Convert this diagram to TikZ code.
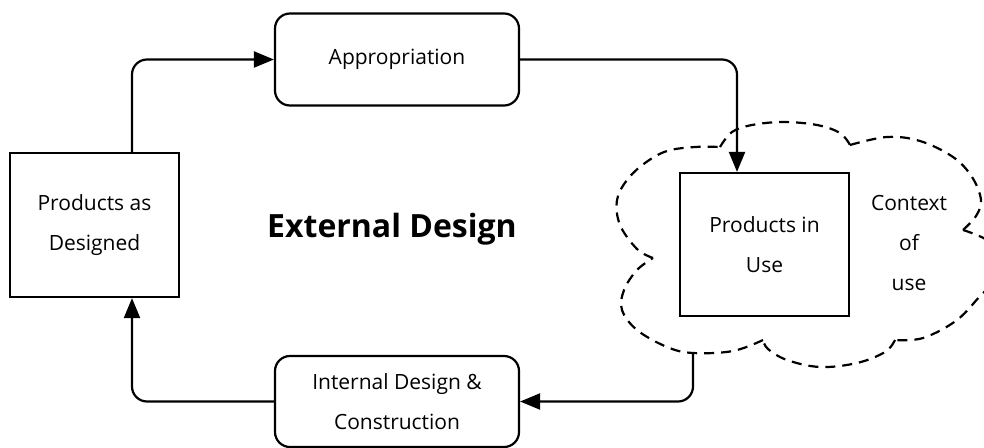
\documentclass[tikz,border=0pt]{standalone}
\usepackage{fontspec}
\setmainfont{Open Sans}
\usetikzlibrary{arrows.meta}
\begin{document}
\begin{tikzpicture}[x=1pt,y=-1pt,
  every node/.style={font=\fontsize{21}{40}\selectfont, align=center, inner sep=0pt},
  sharpbox/.style={draw, line width=2.2pt, minimum width=169pt, minimum height=143pt},
  roundbox/.style={draw, line width=2.2pt, rounded corners=15pt, minimum width=244pt, minimum height=92pt},
  conn/.style={line width=2.2pt, rounded corners=15pt, -{Triangle[length=20pt,width=16pt]}},
  cloudline/.style={line width=2.2pt, dash pattern=on 10pt off 7pt, line join=round}
]
\useasboundingbox (0,0) rectangle (984,447);
\clip (0,0) rectangle (984,447);

% boxes
\node[roundbox] (appr) at (397,59.5) {Appropriation};
\node[roundbox, minimum height=91pt] (internal) at (397,401.5) {Internal Design \&\\Construction};
\node[sharpbox, minimum height=144pt] (pad) at (94.5,225) {Products as\\Designed};
\node[sharpbox] (piu) at (764.5,244.5) {Products in\\Use};
\node (ctx) at (909,243) {Context\\of\\use};
\node[font=\fontsize{32}{36}\selectfont\bfseries] (ext) at (392,229) {External Design};

% cloud around the products in use (dashed, lobe by lobe)
\draw[cloudline] plot[smooth, tension=0.6] coordinates {
  (653,258) (637,249) (620,225) (617,200) (627,180) (645,163) (667,151) (695,147) (720,147)};
\draw[cloudline] plot[smooth, tension=0.6] coordinates {
  (720,147) (732,132) (752,125) (783,122) (817,125) (840,133) (850,145)};
\draw[cloudline] plot[smooth, tension=0.6] coordinates {
  (850,145) (887,137) (920,141) (953,157) (972,177) (981,200) (976,216) (963,230)};
\draw[cloudline] plot[smooth, tension=0.6] coordinates {
  (963,230) (990,242) (1005,265) (995,285) (983,293) (957,320) (923,338) (895,340)};
\draw[cloudline] plot[smooth, tension=0.6] coordinates {
  (895,340) (885,352) (857,363) (820,367) (787,360) (768,349) (763,340)};
\draw[cloudline] plot[smooth, tension=0.6] coordinates {
  (763,340) (733,351) (693,353) (667,347) (637,330) (622,310) (624,290) (637,270) (653,258)};
\coordinate (cloudfoot) at (693,353);

% connectors
\draw[conn] ([xshift=37.5pt]pad.north) |- (appr.west);
\draw[conn] (appr.east) -| ([xshift=-27.5pt]piu.north);
\draw[conn] (cloudfoot) |- (internal.east);
\draw[conn] (internal.west) -| ([xshift=37.5pt]pad.south);
\end{tikzpicture}
\end{document}
